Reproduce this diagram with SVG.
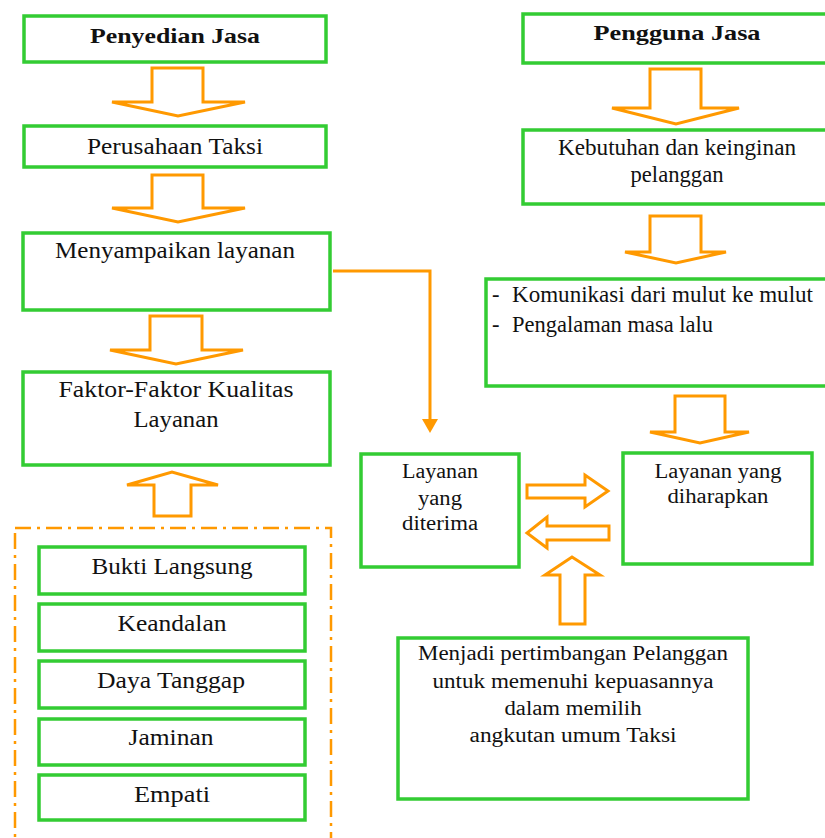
<svg xmlns="http://www.w3.org/2000/svg" width="825" height="838" viewBox="0 0 825 838">
<style>
.box{fill:#fff;stroke:#33CC33;stroke-width:3.5}
.arr{fill:#fff;stroke:#FF9900;stroke-width:3;stroke-linejoin:miter}
.t{font-size:22.5px;fill:#111;text-anchor:middle}
.s{font-size:20px}
.b{font-weight:bold;font-size:22px}
.l{text-anchor:start}
.con{fill:none;stroke:#FF9900;stroke-width:3}
</style>
<rect width="825" height="838" fill="#fff"/>
<rect x="15" y="528" width="316" height="330" fill="none" stroke="#FF9900" stroke-width="2.5" stroke-dasharray="16,6,3,6"/>
<g style="font-family:'Liberation Serif',serif" font-family="Liberation Serif, serif">
<g id="n1"><rect class="box" x="24" y="16" width="302" height="46"/><text class="t b" x="175" y="43" textLength="170" lengthAdjust="spacingAndGlyphs">Penyedian Jasa</text></g>
<g id="n2"><rect class="box" x="24" y="126" width="302" height="41"/><text class="t" x="175" y="154" textLength="176" lengthAdjust="spacingAndGlyphs">Perusahaan Taksi</text></g>
<g id="n3"><rect class="box" x="23" y="233" width="307" height="77"/><text class="t" x="175" y="258" textLength="240" lengthAdjust="spacingAndGlyphs">Menyampaikan layanan</text></g>
<g id="n4"><rect class="box" x="23" y="372" width="307" height="93"/><text class="t" x="176" y="397" textLength="235" lengthAdjust="spacingAndGlyphs">Faktor-Faktor Kualitas</text><text class="t" x="176" y="427" textLength="85" lengthAdjust="spacingAndGlyphs">Layanan</text></g>
<g id="n5"><rect class="box" x="39" y="547" width="266" height="47"/><text class="t" x="172" y="574" textLength="161" lengthAdjust="spacingAndGlyphs">Bukti Langsung</text></g>
<g id="n6"><rect class="box" x="39" y="604" width="266" height="47"/><text class="t" x="172" y="631" textLength="109" lengthAdjust="spacingAndGlyphs">Keandalan</text></g>
<g id="n7"><rect class="box" x="39" y="661" width="266" height="47"/><text class="t" x="171" y="688" textLength="148" lengthAdjust="spacingAndGlyphs">Daya Tanggap</text></g>
<g id="n8"><rect class="box" x="39" y="719" width="266" height="46"/><text class="t" x="171" y="745" textLength="85" lengthAdjust="spacingAndGlyphs">Jaminan</text></g>
<g id="n9"><rect class="box" x="39" y="775" width="266" height="45"/><text class="t" x="172" y="802" textLength="76" lengthAdjust="spacingAndGlyphs">Empati</text></g>
<g id="n10"><rect class="box" x="523" y="14" width="305" height="49"/><text class="t b" x="677" y="40" textLength="167" lengthAdjust="spacingAndGlyphs">Pengguna Jasa</text></g>
<g id="n11"><rect class="box" x="523" y="130" width="305" height="74"/><text class="t" x="677" y="155" textLength="238" lengthAdjust="spacingAndGlyphs">Kebutuhan dan keinginan</text><text class="t" x="677" y="182" textLength="93" lengthAdjust="spacingAndGlyphs">pelanggan</text></g>
<g id="n12"><rect class="box" x="486" y="279" width="342" height="107"/><text class="t l" x="492" y="302">-</text><text class="t l" x="512" y="302" textLength="301" lengthAdjust="spacingAndGlyphs">Komunikasi dari mulut ke mulut</text><text class="t l" x="492" y="332">-</text><text class="t l" x="512" y="332" textLength="201" lengthAdjust="spacingAndGlyphs">Pengalaman masa lalu</text></g>
<g id="n13"><rect class="box" x="623" y="453" width="189" height="111"/><text class="t s" x="718" y="478" textLength="127" lengthAdjust="spacingAndGlyphs">Layanan yang</text><text class="t s" x="718" y="503" textLength="101" lengthAdjust="spacingAndGlyphs">diharapkan</text></g>
<g id="n14"><rect class="box" x="361" y="454" width="158" height="113"/><text class="t s" x="440" y="478" textLength="76" lengthAdjust="spacingAndGlyphs">Layanan</text><text class="t s" x="440" y="505" textLength="44" lengthAdjust="spacingAndGlyphs">yang</text><text class="t s" x="440" y="530" textLength="76" lengthAdjust="spacingAndGlyphs">diterima</text></g>
<g id="n15"><rect class="box" x="398" y="638" width="350" height="161"/><text class="t s" x="573" y="660" textLength="310" lengthAdjust="spacingAndGlyphs">Menjadi pertimbangan Pelanggan</text><text class="t s" x="573" y="688" textLength="281" lengthAdjust="spacingAndGlyphs">untuk memenuhi kepuasannya</text><text class="t s" x="573" y="715" textLength="137" lengthAdjust="spacingAndGlyphs">dalam memilih</text><text class="t s" x="573" y="742" textLength="207" lengthAdjust="spacingAndGlyphs">angkutan umum Taksi</text></g>
</g>
<g id="connectors">
<polygon class="arr" points="152,68 203,68 203,102 245,102 178,116 112,102 152,102"/>
<polygon class="arr" points="152,175 203,175 203,208 245,208 178,222 112,208 152,208"/>
<polygon class="arr" points="150,316 202,316 202,350 243,350 176,364 110,350 150,350"/>
<polygon class="arr" points="154,516 191,516 191,485 218,485 172,472 127,485 154,485"/>
<polygon class="arr" points="650,69 701,69 701,108 739,108 676,124 612,108 650,108"/>
<polygon class="arr" points="650,216 701,216 701,252 726,252 676,263 625,252 650,252"/>
<polygon class="arr" points="675,396 725,396 725,432 749,432 700,443 650,432 675,432"/>
<polygon class="arr" points="560,624 585,624 585,575 600,575 572,557 545,575 560,575"/>
<polygon class="arr" points="527,485 585,485 585,475 608,491 585,507 585,498 527,498"/>
<polygon class="arr" points="609,526 547,526 547,517 527,533 547,548 547,540 609,540"/>
<polyline class="con" points="333,271 430,271 430,420"/>
<polygon points="422,419 438,419 430,433" fill="#FF9900"/>
</g>
</svg>
